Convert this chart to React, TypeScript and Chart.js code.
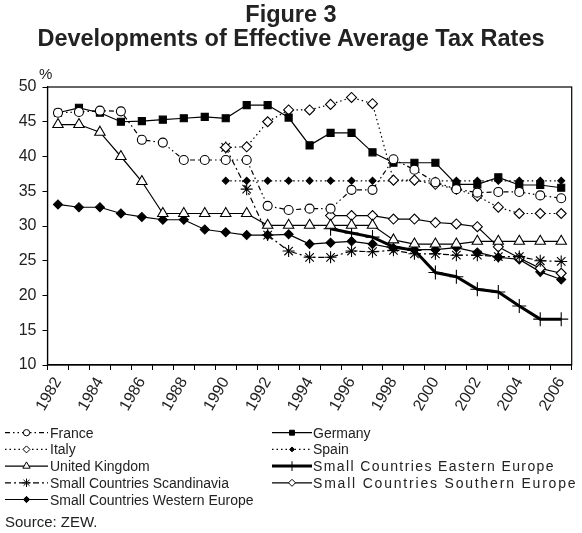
import React, { useEffect, useRef } from 'react';
import { Chart, registerables } from 'chart.js';
import { drawPoint } from 'chart.js/helpers';

Chart.register(...registerables);

// ---------- data ----------
const years = [
  '1982', '1983', '1984', '1985', '1986', '1987', '1988', '1989', '1990', '1991', '1992', '1993',
  '1994', '1995', '1996', '1997', '1998', '1999', '2000', '2001', '2002', '2003', '2004', '2005', '2006',
];
const france = [46.3, 46.4, 46.6, 46.5, 42.4, 42.0, 39.5, 39.5, 39.5, 39.5, 32.9, 32.3, 32.5, 32.5, 35.2, 35.2, 39.6, 38.1, 36.3, 35.3, 34.8, 34.9, 34.9, 34.4, 34.0];
const germany = [46.3, 47.0, 46.3, 45.0, 45.1, 45.3, 45.5, 45.7, 45.5, 47.4, 47.4, 45.6, 41.6, 43.4, 43.4, 40.6, 39.1, 39.1, 39.1, 36.0, 36.0, 37.0, 35.9, 35.9, 35.5];
const italy = [null, null, null, null, null, null, null, null, 41.3, 41.4, 45.0, 46.7, 46.7, 47.5, 48.5, 47.6, 36.6, 36.6, 36.0, 35.3, 34.3, 32.7, 31.8, 31.8, 31.8];
const spain = [null, null, null, null, null, null, null, null, 36.5, 36.5, 36.5, 36.5, 36.5, 36.5, 36.5, 36.5, 36.5, 36.5, 36.5, 36.5, 36.5, 36.5, 36.5, 36.5, 36.5];
const unitedKingdom = [44.6, 44.6, 43.5, 40.0, 36.4, 31.8, 31.8, 31.8, 31.8, 31.8, 30.1, 30.1, 30.1, 30.1, 30.1, 30.1, 28.0, 27.4, 27.4, 27.4, 27.8, 27.8, 27.8, 27.8, 27.8];
const easternEurope = [null, null, null, null, null, null, null, null, null, null, null, null, null, 29.6, 29.0, 28.4, 27.0, 26.5, 23.3, 22.7, 20.9, 20.5, 18.5, 16.6, 16.6];
const scandinavia = [null, null, null, null, null, null, null, null, 41.3, 35.3, 28.7, 26.4, 25.5, 25.5, 26.4, 26.3, 26.5, 26.0, 26.0, 25.8, 25.8, 25.6, 25.6, 25.0, 24.9];
const southernEurope = [null, null, null, null, null, null, null, null, null, null, null, null, null, 31.5, 31.5, 31.5, 31.0, 31.0, 30.5, 30.3, 29.9, 27.0, 25.4, 23.9, 23.2];
const westernEurope = [33.1, 32.7, 32.7, 31.8, 31.3, 30.9, 30.9, 29.5, 29.1, 28.7, 28.7, 28.8, 27.4, 27.6, 27.8, 27.4, 26.8, 26.6, 26.6, 26.9, 26.2, 25.5, 25.2, 23.4, 22.3];

const seriesNames = [
  'France', 'Germany', 'Italy', 'Spain', 'United Kingdom', 'Small Countries Eastern Europe',
  'Small Countries Scandinavia', 'Small Countries Southern Europe', 'Small Countries Western Europe',
];
const yTicks = { min: 10, max: 50, step: 5 };

// ---------- styles ----------
const FONT = '"Liberation Sans", Arial, Helvetica, sans-serif';
const INK = '#000';
const TEXT = '#222';

type Style = { dash: number[]; width: number; point: string; radius: number; filled: boolean; spacing: number };
const styles: Style[] = [
  { dash: [5, 3, 1.5, 3, 1.5, 3], width: 1.2, point: 'circle', radius: 4.5, filled: false, spacing: 0 },
  { dash: [], width: 1.2, point: 'rect', radius: 5, filled: true, spacing: 0 },
  { dash: [1.5, 3], width: 1.2, point: 'rectRot', radius: 5, filled: false, spacing: 0 },
  { dash: [1.5, 3], width: 1.2, point: 'rectRot', radius: 3.5, filled: true, spacing: 0 },
  { dash: [], width: 1.2, point: 'triangle', radius: 6, filled: false, spacing: 0 },
  { dash: [], width: 3, point: 'cross', radius: 7, filled: false, spacing: 1.4 },
  { dash: [6, 3, 2, 3], width: 1.2, point: 'star', radius: 6, filled: false, spacing: 0 },
  { dash: [], width: 1.2, point: 'rectRot', radius: 5, filled: false, spacing: 1.8 },
  { dash: [], width: 1.2, point: 'rectRot', radius: 4.5, filled: true, spacing: 0 },
];
const seriesData = [france, germany, italy, spain, unitedKingdom, easternEurope, scandinavia, southernEurope, westernEurope];

const LEG_ROW0 = 432.7;
const LEG_ROWH = 16.7;
const LEG_COLS = [
  { x0: 5, x1: 48, text: 50 },
  { x0: 272, x1: 312, text: 313 },
];

const frame = {
  id: 'frame',
  afterDatasetsDraw(chart: any) {
    const { ctx, chartArea } = chart;
    ctx.save();
    ctx.strokeStyle = INK;
    ctx.lineWidth = 1.2;
    ctx.strokeRect(chartArea.left, chartArea.top, chartArea.right - chartArea.left, chartArea.bottom - chartArea.top);
    ctx.restore();
  },
  afterDraw(chart: any) {
    const ctx = chart.ctx;
    chart.data.datasets.forEach((_ds: any, i: number) => {
      const st = styles[i];
      const row = Math.floor(i / 2);
      const col = LEG_COLS[i % 2];
      const y = LEG_ROW0 + row * LEG_ROWH;
      ctx.save();
      ctx.strokeStyle = INK;
      ctx.lineWidth = st.width;
      ctx.setLineDash(st.dash);
      ctx.beginPath();
      ctx.moveTo(col.x0, y);
      ctx.lineTo(col.x1, y);
      ctx.stroke();
      ctx.setLineDash([]);
      ctx.lineWidth = 1;
      ctx.fillStyle = st.filled ? INK : '#fff';
      ctx.strokeStyle = INK;
      drawPoint(ctx, { pointStyle: st.point as any, radius: st.radius * 0.7, rotation: 0, borderWidth: 1 }, (col.x0 + col.x1) / 2, y);
      ctx.restore();
    });
  },
};

export default function App() {
  const ref = useRef<HTMLCanvasElement | null>(null);
  useEffect(() => {
    if (!ref.current) return;
    const datasets = seriesData.map((d, i) => {
      const st = styles[i];
      return {
        label: seriesNames[i],
        data: d,
        borderColor: INK,
        borderWidth: st.width,
        borderDash: st.dash,
        pointStyle: st.point,
        pointRadius: st.radius,
        pointBorderWidth: 1.1,
        pointBorderColor: INK,
        pointBackgroundColor: st.filled ? INK : '#fff',
        fill: false,
        tension: 0,
      };
    });
    const chart = new Chart(ref.current, {
      type: 'line',
      data: { labels: years, datasets: datasets as any },
      options: {
        animation: false,
        responsive: false,
        layout: { padding: { top: 87, right: 6, left: 0, bottom: 0 } },
        plugins: { legend: { display: false }, tooltip: { enabled: false }, title: { display: false } },
        scales: {
          x: {
            type: 'category',
            offset: true,
            grid: { offset: true, drawOnChartArea: false, drawTicks: true, tickLength: 5, color: INK, lineWidth: 1 },
            border: { color: INK, width: 1.2 },
            ticks: {
              autoSkip: false,
              maxRotation: 60,
              minRotation: 60,
              padding: 4,
              color: TEXT,
              font: { family: FONT, size: 16 },
              callback: (_v: any, i: number) => (i % 2 === 0 ? years[i] : ''),
            },
            afterFit: (s: any) => {
              s.height = 168;
            },
          },
          y: {
            min: yTicks.min,
            max: yTicks.max,
            ticks: { stepSize: yTicks.step, padding: 6, color: TEXT, font: { family: FONT, size: 16 } },
            grid: { drawOnChartArea: false, tickLength: 5, color: INK, lineWidth: 1 },
            border: { color: INK, width: 1.2 },
            afterFit: (s: any) => {
              s.width = 47.5;
            },
          },
        },
      },
      plugins: [frame],
    });
    return () => chart.destroy();
  }, []);

  const txt: React.CSSProperties = { position: 'absolute', fontFamily: FONT, color: TEXT, whiteSpace: 'nowrap' };
  return (
    <div style={{ position: 'absolute', left: 0, top: 0, width: 582, height: 533, background: '#fff' }}>
      <canvas ref={ref} width={582} height={533} style={{ position: 'absolute', left: 0, top: 0, width: 582, height: 533 }} />
      <div style={{ ...txt, left: 0, top: 1.5, width: 582, textAlign: 'center', fontWeight: 'bold', fontSize: 23.5, lineHeight: '24px' }}>
        <div>Figure 3</div>
        <div>Developments of Effective Average Tax Rates</div>
      </div>
      <div style={{ ...txt, left: 39, top: 66, fontSize: 15, lineHeight: '15px' }}>%</div>
      {seriesNames.map((n, i) => (
        <div
          key={n}
          style={{
            ...txt,
            left: LEG_COLS[i % 2].text,
            top: LEG_ROW0 + Math.floor(i / 2) * LEG_ROWH - 7,
            fontSize: 14,
            lineHeight: '14px',
            letterSpacing: styles[i].spacing,
          }}
        >
          {n}
        </div>
      ))}
      <div style={{ ...txt, left: 5, top: 514, fontSize: 15, lineHeight: '15px' }}>Source: ZEW.</div>
    </div>
  );
}
